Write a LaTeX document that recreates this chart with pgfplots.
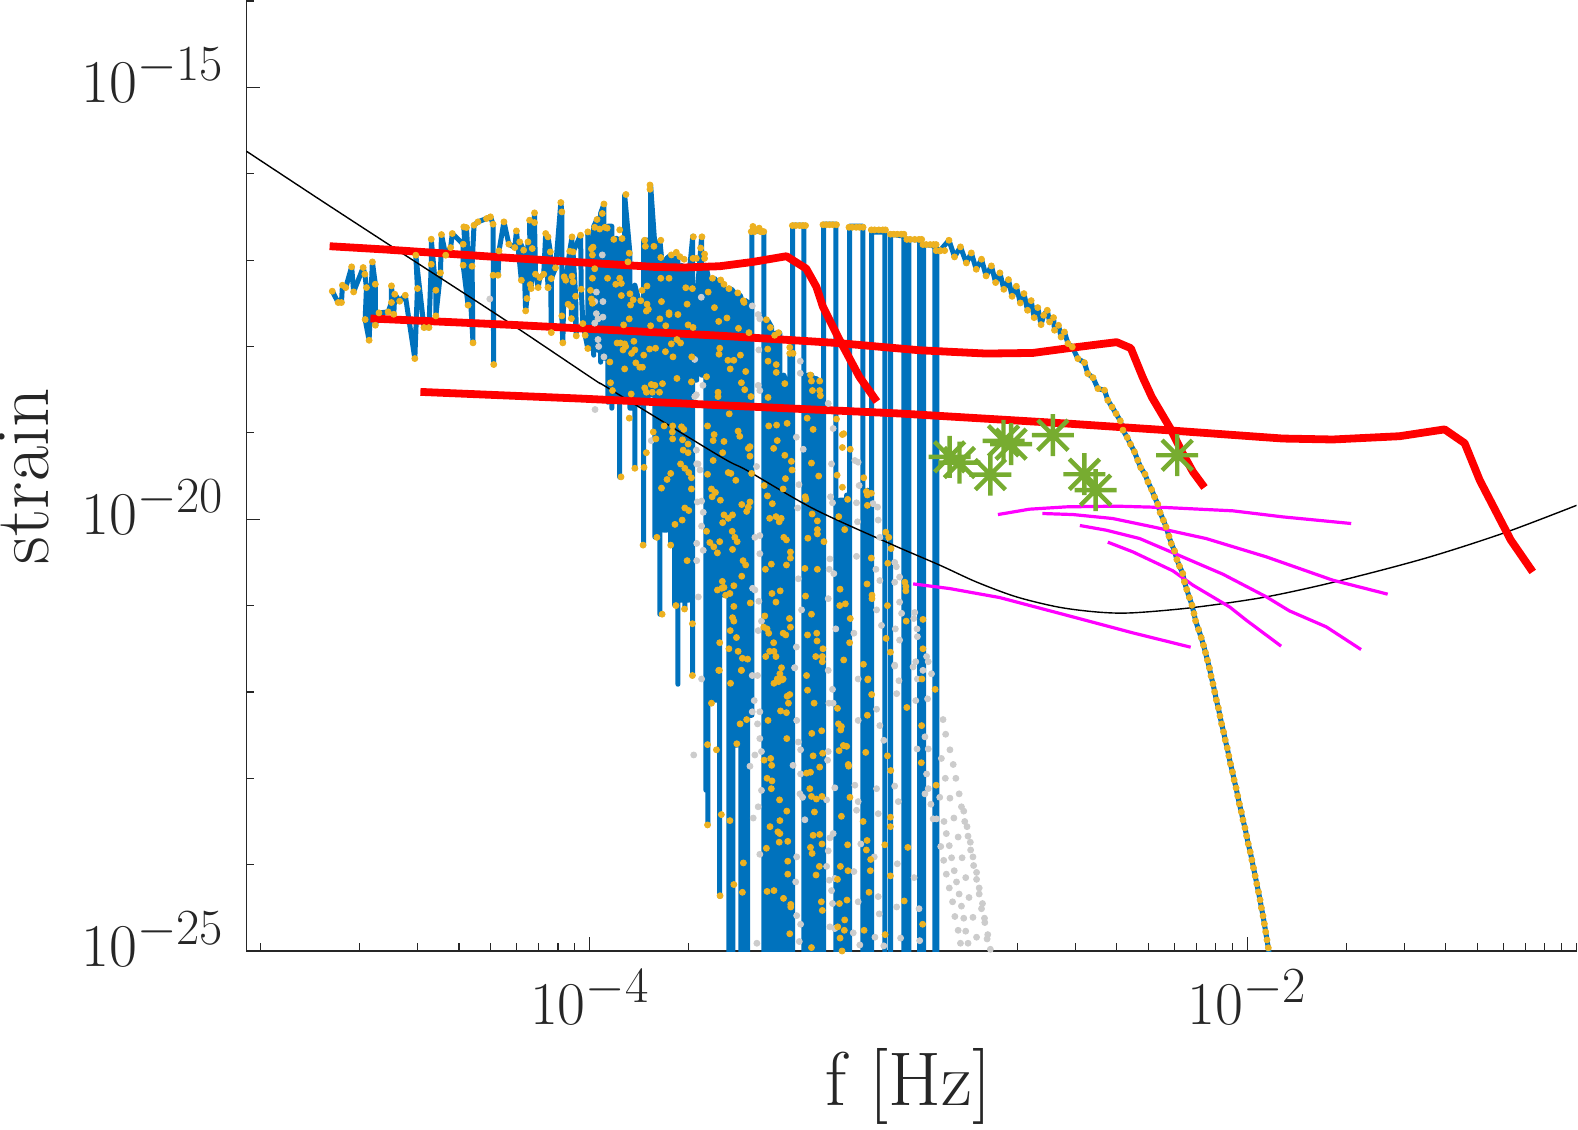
\documentclass[border=0pt]{standalone}
\usepackage{pgfplots}
\usepackage{pgfplotstable}
\pgfplotsset{compat=1.18}

% all tables hold log10(f) and log10(strain)
\pgfplotsset{/pgfplots/table/logxy/.style={x expr={10^(\thisrow{lf})},y expr={10^(\thisrow{lh})}}}

\definecolor{mblue}{HTML}{0072BD}
\definecolor{morange}{HTML}{EDB120}
\definecolor{mgreen}{HTML}{77AC30}
\definecolor{mgray}{HTML}{CCCCCC}
\definecolor{axgray}{HTML}{262626}
\definecolor{mmag}{RGB}{255,0,255}
\definecolor{mred}{RGB}{255,0,0}

\pgfdeclareplotmark{star8}{%
  \pgfpathmoveto{\pgfqpoint{-\pgfplotmarksize}{0pt}}\pgfpathlineto{\pgfqpoint{\pgfplotmarksize}{0pt}}%
  \pgfpathmoveto{\pgfqpoint{0pt}{-\pgfplotmarksize}}\pgfpathlineto{\pgfqpoint{0pt}{\pgfplotmarksize}}%
  \pgfpathmoveto{\pgfqpoint{-0.72\pgfplotmarksize}{-0.72\pgfplotmarksize}}\pgfpathlineto{\pgfqpoint{0.72\pgfplotmarksize}{0.72\pgfplotmarksize}}%
  \pgfpathmoveto{\pgfqpoint{-0.72\pgfplotmarksize}{0.72\pgfplotmarksize}}\pgfpathlineto{\pgfqpoint{0.72\pgfplotmarksize}{-0.72\pgfplotmarksize}}%
  \pgfusepathqstroke}

% low frequency part of the spectrum
\pgfplotstableread{
lf lh
-4.783 -17.360
-4.765 -17.491
-4.755 -17.491
-4.752 -17.291
-4.742 -17.318
-4.724 -17.078
-4.718 -17.368
-4.689 -17.086
-4.684 -17.163
-4.679 -17.318
-4.683 -17.688
-4.671 -17.928
-4.661 -17.021
-4.652 -17.279
-4.652 -17.754
-4.641 -17.611
-4.613 -17.600
-4.603 -17.491
-4.603 -17.298
-4.596 -17.627
-4.593 -17.395
-4.578 -17.476
-4.561 -17.407
-4.532 -18.140
-4.524 -17.329
-4.529 -16.943
-4.504 -17.781
-4.489 -17.781
-4.482 -17.048
-4.482 -16.758
-4.468 -17.349
-4.468 -17.646
-4.454 -17.148
-4.451 -16.704
-4.438 -16.943
-4.423 -16.855
-4.418 -16.692
-4.385 -16.816
-4.385 -17.059
-4.370 -17.522
-4.383 -16.615
-4.375 -16.623
-4.355 -17.958
-4.358 -17.071
-4.352 -16.596
-4.340 -16.557
-4.314 -16.519
-4.302 -16.499
-4.294 -16.584
-4.292 -18.209
-4.294 -17.175
-4.279 -17.175
-4.276 -16.893
-4.261 -16.557
-4.246 -16.816
-4.228 -16.855
-4.223 -16.662
-4.208 -17.233
-4.213 -16.789
-4.201 -16.885
-4.195 -17.588
-4.191 -17.445
-4.188 -16.789
-4.181 -17.283
-4.183 -16.538
-4.178 -17.329
-4.175 -16.866
-4.168 -16.453
-4.168 -16.565
-4.165 -17.163
-4.157 -17.318
-4.152 -17.202
-4.140 -17.163
-4.134 -16.692
-4.127 -17.318
-4.127 -16.731
-4.120 -16.905
-4.117 -17.839
-4.117 -17.214
-4.104 -17.090
-4.088 -16.333
-4.085 -16.442
-4.085 -17.646
-4.082 -17.958
-4.078 -17.194
-4.073 -17.233
-4.061 -16.897
-4.054 -16.731
-4.066 -17.511
-4.056 -17.542
-4.056 -17.677
-4.054 -17.186
-4.051 -17.252
-4.041 -17.877
-4.043 -17.418
-4.051 -16.905
-4.028 -16.712
-4.026 -17.337
-4.021 -17.735
-4.014 -17.870
-4.006 -18.024
-4.006 -16.673
}\lowdata

% the teeth, they run below the axis at the harmonics
\pgfplotstableread{
lf lh
-4.006 -16.673
-4.000 -16.885
-4.000 -18.020
-3.988 -18.020
-3.988 -18.101
-3.988 -16.607
-3.976 -16.514
-3.976 -18.043
-3.967 -18.043
-3.967 -18.182
-3.967 -16.457
-3.957 -16.352
-3.957 -18.136
-3.945 -18.136
-3.945 -18.645
-3.945 -16.607
-3.933 -16.607
-3.933 -18.715
-3.933 -18.576
-3.921 -18.576
-3.921 -16.746
-3.909 -16.769
-3.909 -19.514
-3.909 -18.622
-3.894 -18.622
-3.894 -16.248
-3.878 -16.920
-3.878 -18.715
-3.863 -18.715
-3.863 -19.409
-3.863 -17.290
-3.851 -17.464
-3.851 -18.668
-3.836 -18.668
-3.836 -20.301
-3.836 -16.769
-3.824 -16.769
-3.824 -18.645
-3.824 -18.564
-3.815 -18.564
-3.815 -16.132
-3.802 -16.839
-3.802 -20.208
-3.787 -20.208
-3.787 -21.100
-3.787 -16.769
-3.775 -17.232
-3.775 -20.127
-3.766 -20.127
-3.766 -16.978
-3.754 -16.943
-3.754 -20.301
-3.742 -20.301
-3.742 -20.996
-3.742 -16.978
-3.732 -16.978
-3.732 -21.911
-3.732 -20.938
-3.720 -20.938
-3.720 -17.059
-3.711 -17.117
-3.711 -21.042
-3.711 -20.938
-3.699 -20.938
-3.699 -17.209
-3.687 -16.723
-3.687 -21.806
-3.687 -18.390
-3.675 -18.390
-3.675 -17.464
-3.660 -16.734
-3.660 -18.332
-3.647 -18.332
-3.647 -23.138
-3.647 -17.059
-3.641 -17.175
-3.641 -23.543
-3.641 -22.096
-3.629 -22.096
-3.629 -17.209
-3.617 -17.221
-3.617 -22.096
-3.605 -22.096
-3.605 -24.366
-3.605 -17.232
-3.593 -17.279
-3.593 -20.880
-3.577 -20.880
-3.577 -27
-3.577 -17.325
-3.565 -17.348
-3.565 -27
-3.565 -22.617
-3.553 -22.617
-3.553 -17.371
-3.541 -17.418
-3.541 -27
-3.529 -27
-3.529 -17.464
-3.520 -17.487
-3.520 -27
-3.520 -22.270
-3.507 -22.270
-3.507 -16.653
-3.471 -16.677
-3.471 -27
-3.459 -27
-3.459 -17.696
-3.447 -17.777
-3.447 -27
-3.435 -27
-3.435 -17.846
-3.422 -17.846
-3.422 -27
-3.410 -27
-3.410 -18.332
-3.401 -18.425
-3.401 -27
-3.392 -27
-3.392 -18.089
-3.392 -27
-3.383 -27
-3.383 -16.595
-3.349 -16.595
-3.349 -27
-3.337 -27
-3.337 -18.332
-3.325 -18.332
-3.325 -27
-3.313 -27
-3.313 -18.367
-3.301 -18.414
-3.301 -27
-3.289 -27
-3.289 -16.584
-3.252 -16.584
-3.252 -27
-3.240 -27
-3.240 -19.780
-3.228 -19.780
-3.228 -27
-3.219 -27
-3.219 -19.720
-3.219 -27
-3.210 -27
-3.210 -16.607
-3.170 -16.607
-3.170 -27
-3.155 -27
-3.155 -19.664
-3.155 -27
-3.143 -27
-3.143 -16.677
-3.103 -16.677
-3.103 -27
-3.085 -27
-3.085 -16.700
-3.045 -16.723
-3.045 -27
-3.030 -27
-3.030 -16.758
-2.997 -16.769
-2.997 -27
-2.985 -27
-2.985 -16.816
-2.951 -16.839
-2.951 -27
-2.945 -27
-2.945 -16.862
-2.936 -16.894
}\bardata

% high frequency tail
\pgfplotstableread{
lf lh
-2.936 -16.894
-2.908 -16.770
-2.891 -16.963
-2.873 -16.847
-2.855 -17.033
-2.840 -16.917
-2.825 -17.106
-2.809 -16.990
-2.795 -17.183
-2.779 -17.067
-2.766 -17.260
-2.753 -17.148
-2.741 -17.338
-2.727 -17.226
-2.716 -17.419
-2.703 -17.303
-2.691 -17.496
-2.680 -17.388
-2.669 -17.581
-2.658 -17.469
-2.649 -17.666
-2.638 -17.550
-2.628 -17.747
-2.620 -17.639
-2.609 -17.581
-2.602 -17.716
-2.590 -17.666
-2.587 -17.812
-2.575 -17.755
-2.567 -17.890
-2.557 -17.832
-2.546 -17.967
-2.533 -18.005
-2.516 -18.141
-2.496 -18.187
-2.486 -18.314
-2.470 -18.361
-2.455 -18.488
-2.435 -18.507
-2.425 -18.623
-2.412 -18.700
-2.400 -18.777
-2.387 -18.861
-2.379 -18.969
-2.366 -19.054
-2.356 -19.132
-2.344 -19.220
-2.334 -19.317
-2.325 -19.402
-2.312 -19.479
-2.303 -19.568
-2.292 -19.656
-2.283 -19.741
-2.273 -19.826
-2.266 -19.923
-2.256 -20.012
-2.248 -20.089
-2.239 -20.197
-2.232 -20.282
-2.222 -20.367
-2.215 -20.467
-2.207 -20.544
-2.197 -20.629
-2.192 -20.726
-2.185 -20.814
-2.177 -20.907
-2.169 -20.996
-2.163 -21.092
-2.158 -21.177
-2.149 -21.278
-2.141 -21.370
-2.134 -21.459
-2.128 -21.544
-2.122 -21.633
-2.116 -21.722
-2.111 -21.815
-2.105 -21.907
-2.100 -22.000
-2.095 -22.093
-2.089 -22.185
-2.084 -22.278
-2.079 -22.370
-2.073 -22.463
-2.068 -22.556
-2.062 -22.648
-2.057 -22.741
-2.052 -22.833
-2.046 -22.926
-2.041 -23.019
-2.035 -23.111
-2.030 -23.204
-2.025 -23.296
-2.019 -23.389
-2.014 -23.482
-2.008 -23.574
-2.003 -23.667
-1.998 -23.759
-1.992 -23.852
-1.987 -23.945
-1.982 -24.037
-1.977 -24.130
-1.972 -24.222
-1.967 -24.315
-1.962 -24.408
-1.958 -24.500
-1.953 -24.593
-1.949 -24.685
-1.945 -24.778
-1.941 -24.871
-1.937 -24.963
-1.933 -25.056
}\taildata

% dots inside the teeth
\pgfplotstableread{
lf lh
-3.995 -16.87
-3.990 -16.85
-3.992 -16.94
-3.985 -17.10
-3.992 -17.21
-3.998 -17.35
-3.995 -17.45
-3.992 -17.50
-3.985 -16.62
-3.978 -16.53
-3.970 -16.64
-3.962 -16.46
-3.957 -16.35
-3.954 -16.62
-3.947 -16.63
-3.946 -17.21
-3.927 -16.76
-3.909 -16.65
-3.902 -16.75
-3.890 -16.24
-3.880 -16.92
-3.884 -17.02
-3.921 -17.28
-3.909 -17.21
-3.904 -17.27
-3.904 -17.41
-3.878 -17.39
-3.868 -17.46
-3.876 -17.52
-3.880 -17.68
-3.897 -17.75
-3.917 -17.96
-3.907 -17.96
-3.894 -17.97
-3.866 -17.94
-3.899 -18.04
-3.891 -18.00
-3.863 -18.04
-3.873 -18.08
-3.836 -18.10
-3.860 -18.19
-3.848 -18.24
-3.840 -18.24
-3.894 -18.26
-3.939 -18.18
-3.937 -18.42
-3.931 -18.51
-3.874 -18.55
-3.833 -18.48
-3.828 -18.53
-3.813 -18.44
-3.802 -18.45
-3.810 -18.53
-3.779 -18.43
-3.788 -18.53
-3.833 -16.77
-3.831 -16.84
-3.817 -16.13
-3.817 -16.18
-3.805 -16.84
-3.784 -16.77
-3.784 -16.97
-3.784 -17.21
-3.759 -17.21
-3.826 -17.30
-3.841 -17.35
-3.845 -17.47
-3.826 -17.51
-3.822 -17.57
-3.828 -17.59
-3.782 -17.48
-3.787 -17.68
-3.769 -17.76
-3.815 -17.76
-3.818 -18.03
-3.800 -18.02
-3.752 -17.97
-3.770 -18.06
-3.747 -18.12
-3.735 -17.92
-3.724 -17.96
-3.732 -17.63
-3.759 -17.61
-3.759 -17.63
-3.704 -17.51
-3.708 -17.32
-3.688 -17.33
-3.701 -17.75
-3.686 -17.78
-3.690 -18.12
-3.735 -18.37
-3.691 -18.41
-3.752 -16.94
-3.737 -16.91
-3.726 -16.96
-3.713 -16.99
-3.685 -16.73
-3.686 -16.98
-3.659 -16.73
-3.663 -16.86
-3.651 -16.93
-3.651 -16.98
-3.676 -16.98
-3.627 -17.21
-3.602 -17.23
-3.592 -17.28
-3.577 -17.33
-3.550 -17.38
-3.533 -17.47
-3.531 -17.49
-3.640 -17.37
-3.621 -17.55
-3.608 -17.71
-3.583 -17.67
-3.548 -17.79
-3.516 -17.84
-3.645 -18.35
-3.605 -18.02
-3.607 -18.09
-3.580 -18.16
-3.562 -18.16
-3.573 -18.26
-3.542 -18.10
-3.526 -18.29
-3.539 -18.42
-3.529 -18.50
-3.610 -18.53
-3.610 -18.58
-3.510 -18.58
-3.463 -17.69
-3.451 -17.78
-3.426 -17.84
-3.438 -17.87
-3.459 -18.03
-3.458 -18.17
-3.433 -18.21
-3.433 -18.30
-3.407 -18.43
-3.392 -18.01
-3.392 -18.08
-3.382 -18.08
-3.329 -18.33
-3.326 -18.40
-3.323 -18.51
-3.301 -18.40
-3.301 -18.51
-3.299 -18.57
-3.509 -16.67
-3.504 -16.61
-3.494 -16.65
-3.485 -16.63
-3.475 -16.67
-3.499 -16.67
-3.481 -16.67
-3.471 -16.67
-3.384 -16.60
-3.374 -16.60
-3.362 -16.60
-3.352 -16.60
-3.344 -16.60
-3.291 -16.59
-3.281 -16.59
-3.271 -16.59
-3.261 -16.59
-3.250 -16.59
-3.212 -16.62
-3.202 -16.62
-3.190 -16.62
-3.180 -16.62
-3.169 -16.62
-3.144 -16.65
-3.134 -16.65
-3.121 -16.65
-3.109 -16.65
-3.101 -16.65
-3.086 -16.70
-3.076 -16.70
-3.065 -16.70
-3.053 -16.70
-3.045 -16.70
-3.036 -16.76
-3.026 -16.76
-3.012 -16.76
-2.999 -16.76
-2.991 -16.76
-2.987 -16.82
-2.977 -16.82
-2.965 -16.82
-2.955 -16.82
-2.947 -16.82
-2.947 -16.89
-2.934 -16.89
-2.921 -16.89
-3.880 -18.83
-3.863 -19.41
-3.905 -19.51
-3.835 -19.40
-3.838 -20.30
-3.807 -18.99
-3.799 -19.07
-3.828 -19.23
-3.796 -20.21
-3.782 -19.64
-3.780 -21.10
-3.765 -19.54
-3.754 -19.47
-3.754 -20.30
-3.741 -20.06
-3.738 -21.00
-3.719 -20.01
-3.711 -19.87
-3.699 -19.90
-3.691 -19.65
-3.704 -20.48
-3.712 -21.04
-3.688 -21.21
-3.688 -21.81
-3.774 -18.92
-3.749 -18.99
-3.748 -19.07
-3.748 -18.92
-3.721 -18.93
-3.714 -18.96
-3.718 -19.08
-3.701 -19.13
-3.716 -19.20
-3.701 -19.23
-3.724 -19.36
-3.711 -19.41
-3.699 -19.46
-3.691 -19.52
-3.642 -18.92
-3.622 -19.02
-3.625 -19.09
-3.592 -19.10
-3.596 -19.23
-3.625 -19.32
-3.642 -19.48
-3.630 -19.65
-3.618 -19.69
-3.628 -19.74
-3.603 -19.78
-3.576 -18.78
-3.549 -18.98
-3.544 -19.04
-3.518 -19.18
-3.513 -19.16
-3.513 -19.27
-3.579 -19.46
-3.571 -19.47
-3.556 -19.55
-3.508 -19.47
-3.592 -19.95
-3.566 -19.95
-3.579 -19.99
-3.596 -20.04
-3.538 -19.83
-3.513 -19.80
-3.523 -19.91
-3.518 -19.86
-3.567 -20.14
-3.645 -20.14
-3.559 -20.21
-3.552 -20.26
-3.605 -20.26
-3.635 -20.27
-3.623 -20.32
-3.612 -20.39
-3.566 -20.35
-3.534 -20.48
-3.526 -20.53
-3.538 -20.66
-3.597 -20.72
-3.599 -20.80
-3.612 -20.82
-3.592 -20.79
-3.587 -20.88
-3.574 -20.86
-3.562 -20.77
-3.512 -20.97
-3.562 -21.01
-3.566 -21.14
-3.562 -21.18
-3.573 -21.29
-3.554 -21.37
-3.605 -21.43
-3.577 -21.50
-3.549 -21.53
-3.536 -21.61
-3.520 -21.62
-3.608 -21.75
-3.539 -21.75
-3.458 -18.59
-3.456 -18.92
-3.432 -18.91
-3.400 -18.89
-3.430 -19.09
-3.441 -19.18
-3.407 -19.26
-3.387 -19.33
-3.385 -19.43
-3.405 -19.53
-3.412 -19.65
-3.470 -19.61
-3.460 -19.73
-3.445 -19.82
-3.453 -19.99
-3.434 -19.97
-3.418 -19.99
-3.424 -20.03
-3.410 -20.21
-3.402 -20.24
-3.390 -20.38
-3.390 -20.45
-3.402 -20.53
-3.448 -20.52
-3.466 -20.58
-3.446 -20.86
-3.421 -20.83
-3.434 -20.96
-3.393 -21.15
-3.468 -21.12
-3.390 -21.25
-3.471 -21.25
-3.461 -21.27
-3.456 -21.32
-3.412 -21.32
-3.404 -21.34
-3.441 -21.43
-3.453 -21.53
-3.440 -21.53
-3.434 -21.59
-3.465 -21.59
-3.417 -21.72
-3.422 -21.79
-3.430 -21.85
-3.412 -21.85
-3.339 -18.83
-3.321 -18.96
-3.326 -19.35
-3.304 -19.50
-3.345 -19.74
-3.343 -19.77
-3.324 -19.94
-3.308 -20.02
-3.308 -20.12
-3.308 -20.17
-3.337 -20.22
-3.288 -20.26
-3.346 -20.57
-3.308 -20.58
-3.344 -20.89
-3.326 -21.10
-3.338 -21.34
-3.310 -21.32
-3.309 -21.41
-3.313 -21.59
-3.291 -21.50
-3.293 -21.59
-3.293 -21.65
-3.341 -21.81
-3.250 -18.84
-3.228 -19.01
-3.232 -19.02
-3.232 -19.17
-3.208 -19.19
-3.248 -19.49
-3.232 -19.63
-3.216 -19.77
-3.243 -19.97
-3.225 -20.12
-3.239 -20.81
-3.223 -20.98
-3.240 -21.00
-3.208 -21.15
-3.210 -21.43
-3.228 -21.63
-3.167 -19.52
-3.159 -19.68
-3.156 -19.72
-3.144 -19.70
-3.156 -19.84
-3.144 -20.45
-3.157 -20.75
-3.142 -20.88
-3.142 -20.92
-3.168 -21.68
-3.154 -21.85
-3.100 -20.15
-3.091 -20.21
-3.084 -20.34
-3.094 -20.51
-3.095 -21.00
-3.099 -21.38
-3.086 -21.54
-3.042 -20.73
-3.039 -20.78
-3.039 -20.83
-3.038 -21.18
-2.987 -21.16
-2.987 -21.50
-2.990 -21.85
-3.606 -21.75
-3.539 -21.75
-3.572 -21.90
-3.630 -22.13
-3.642 -22.61
-3.615 -22.67
-3.642 -23.54
-3.600 -23.42
-3.604 -24.36
-3.574 -23.49
-3.562 -24.23
-3.533 -23.98
-3.536 -24.32
-3.553 -22.60
-3.543 -22.37
-3.523 -22.32
-3.458 -22.33
-3.420 -22.22
-3.402 -22.24
-3.396 -22.13
-3.400 -22.05
-3.392 -22.03
-3.440 -21.90
-3.426 -21.88
-3.415 -21.86
-3.401 -22.54
-3.470 -22.79
-3.450 -22.77
-3.447 -22.85
-3.461 -23.00
-3.446 -23.03
-3.448 -23.12
-3.423 -23.25
-3.401 -23.38
-3.422 -23.49
-3.452 -23.56
-3.428 -23.62
-3.422 -23.64
-3.424 -23.74
-3.398 -23.73
-3.463 -23.81
-3.398 -23.96
-3.398 -24.11
-3.461 -24.31
-3.440 -24.30
-3.411 -24.39
-3.389 -24.46
-3.389 -24.49
-3.392 -24.80
-3.338 -21.98
-3.318 -22.13
-3.325 -22.48
-3.295 -22.45
-3.292 -22.71
-3.321 -22.74
-3.301 -22.87
-3.341 -22.94
-3.329 -22.93
-3.331 -23.12
-3.326 -23.21
-3.311 -23.24
-3.294 -23.21
-3.317 -23.39
-3.321 -23.66
-3.301 -23.65
-3.294 -23.76
-3.329 -23.80
-3.324 -23.87
-3.302 -24.02
-3.312 -24.12
-3.296 -24.43
-3.293 -24.53
-3.326 -24.96
-3.247 -22.19
-3.244 -22.37
-3.235 -22.40
-3.237 -22.44
-3.229 -22.62
-3.219 -22.63
-3.242 -22.68
-3.214 -22.84
-3.213 -22.86
-3.209 -23.22
-3.235 -23.44
-3.216 -23.77
-3.238 -24.02
-3.215 -24.07
-3.247 -24.17
-3.218 -24.41
-3.241 -24.45
-3.225 -24.64
-3.246 -24.72
-3.226 -24.76
-3.239 -24.85
-3.233 -25.00
-3.155 -21.86
-3.143 -22.03
-3.156 -22.27
-3.161 -22.70
-3.169 -23.50
-3.157 -23.72
-3.159 -23.83
-3.146 -23.94
-3.147 -24.07
-3.151 -24.32
-3.166 -24.76
-3.095 -22.74
-3.085 -22.91
-3.086 -23.45
-3.086 -23.56
-3.103 -23.77
-3.086 -24.13
-3.102 -24.81
-3.036 -22.18
-3.033 -23.80
-3.044 -24.42
-2.991 -22.39
-2.992 -22.82
-2.988 -24.69
-2.950 -21.97
-2.947 -23.08
}\innerdots

% grey dots of the second spectrum
\pgfplotstableread{
lf lh
-3.660 -21.85
-3.506 -21.81
-3.490 -21.81
-3.500 -22.10
-3.506 -22.23
-3.483 -22.23
-3.490 -22.37
-3.483 -22.54
-3.498 -22.73
-3.478 -22.69
-3.513 -22.86
-3.478 -23.14
-3.488 -23.33
-3.503 -23.46
-3.483 -23.88
-3.492 -24.91
-3.684 -22.73
-3.377 -21.72
-3.371 -22.33
-3.366 -22.58
-3.359 -22.67
-3.382 -22.85
-3.359 -22.95
-3.361 -23.18
-3.353 -23.22
-3.346 -23.48
-3.371 -23.91
-3.374 -24.20
-3.371 -24.59
-3.359 -24.69
-3.363 -24.89
-3.275 -21.75
-3.262 -21.97
-3.273 -22.13
-3.260 -22.13
-3.275 -22.69
-3.277 -22.79
-3.280 -23.25
-3.255 -23.11
-3.260 -23.64
-3.270 -23.69
-3.275 -23.84
-3.280 -24.02
-3.272 -24.18
-3.255 -24.16
-3.265 -24.30
-3.262 -24.45
-3.255 -24.74
-3.270 -24.72
-3.199 -24.79
-3.194 -23.08
-3.189 -23.37
-3.184 -23.27
-3.184 -22.33
-3.184 -21.85
-3.176 -23.76
-3.184 -24.43
-3.197 -24.08
-3.179 -24.93
-3.128 -22.20
-3.118 -22.39
-3.106 -22.56
-3.128 -23.12
-3.123 -23.41
-3.135 -23.91
-3.123 -24.37
-3.120 -24.57
-3.133 -24.84
-3.106 -24.94
-3.073 -21.70
-3.060 -21.87
-3.067 -22.02
-3.073 -23.09
-3.062 -23.27
-3.065 -23.99
-3.067 -24.49
-3.055 -24.85
-3.009 -21.65
-3.004 -21.85
-3.009 -22.10
-3.005 -22.66
-3.014 -24.15
-2.997 -24.88
-2.999 -24.51
-2.971 -22.66
-2.981 -22.52
-2.973 -22.08
-2.976 -22.95
-2.963 -23.30
-2.956 -23.47
-2.971 -23.12
-2.981 -23.18
-2.946 -23.47
-2.926 -22.32
-2.918 -22.49
-2.905 -22.67
-2.931 -22.77
-2.895 -22.84
-2.919 -23.00
-2.887 -23.00
-2.877 -23.18
-2.905 -23.23
-2.936 -23.22
-2.870 -23.33
-2.863 -23.38
-2.893 -23.46
-2.923 -23.50
-2.860 -23.50
-2.853 -23.56
-2.880 -23.68
-2.916 -23.64
-2.850 -23.67
-2.843 -23.74
-2.907 -23.78
-2.933 -23.79
-2.842 -23.83
-2.835 -23.91
-2.924 -23.95
-2.900 -23.92
-2.868 -23.92
-2.833 -24.01
-2.892 -24.07
-2.824 -24.09
-2.916 -24.11
-2.857 -24.15
-2.824 -24.17
-2.885 -24.20
-2.816 -24.27
-2.907 -24.27
-2.877 -24.34
-2.847 -24.38
-2.816 -24.34
-2.897 -24.43
-2.870 -24.48
-2.806 -24.45
-2.809 -24.51
-2.890 -24.60
-2.863 -24.62
-2.835 -24.61
-2.800 -24.62
-2.799 -24.67
-2.880 -24.76
-2.857 -24.77
-2.824 -24.84
-2.790 -24.81
-2.792 -24.86
-2.873 -24.91
-2.850 -24.91
-2.782 -24.98
-3.984 -18.73
-3.675 -19.36
-3.665 -19.43
-3.673 -19.80
-3.660 -19.79
-3.655 -19.92
-3.660 -20.08
-3.675 -20.28
-3.655 -20.36
-3.675 -20.48
-3.670 -20.90
-3.498 -20.21
-3.483 -20.19
-3.483 -20.40
-3.505 -20.80
-3.498 -20.82
-3.493 -19.39
-3.372 -19.05
-3.351 -19.19
-3.364 -19.60
-3.368 -19.87
-3.366 -20.69
-3.486 -20.95
-3.478 -21.18
-3.488 -21.29
-3.356 -21.05
-3.372 -21.48
-3.377 -21.72
-3.265 -19.36
-3.275 -18.66
-3.260 -18.95
-3.268 -19.74
-3.262 -19.81
-3.194 -19.32
-3.184 -19.34
-3.181 -19.61
-3.189 -19.81
-3.186 -20.03
-3.189 -20.43
-3.197 -21.32
-3.270 -20.46
-3.272 -20.58
-3.258 -20.63
-3.275 -20.92
-3.252 -21.27
-3.139 -19.82
-3.125 -19.86
-3.123 -20.01
-3.118 -20.21
-3.130 -20.58
-3.118 -20.71
-3.128 -21.05
-3.113 -21.23
-3.073 -20.50
-3.068 -20.55
-3.058 -20.67
-3.073 -20.73
-3.058 -20.96
-3.052 -21.09
-3.071 -21.27
-3.058 -21.40
-3.073 -21.69
-3.012 -21.08
-3.015 -21.15
-3.005 -21.27
-3.004 -21.36
-2.976 -21.59
-2.971 -21.65
-2.961 -21.79
-3.017 -21.71
-2.987 -21.75
-4.304 -17.45
-4.127 -17.32
-3.962 -16.94
-3.980 -17.37
-3.960 -17.48
-3.985 -17.48
-3.980 -17.62
-3.975 -17.68
-3.960 -17.66
-3.985 -17.73
-3.975 -17.92
-3.973 -18.00
-3.957 -18.12
-3.661 -17.43
-3.681 -18.15
-3.656 -18.45
-3.681 -18.58
-3.813 -19.09
-3.676 -19.20
-3.671 -19.36
-3.506 -17.53
-3.488 -17.63
-3.483 -17.68
-3.486 -18.04
-3.360 -18.17
-3.360 -18.31
-3.488 -18.45
-3.483 -18.51
-3.676 -18.56
}\graydots

\pgfplotstableread{
lf lh
-5.044 -15.739
-4.821 -16.299
-4.603 -16.840
-4.264 -17.677
-3.984 -18.391
-3.950 -18.468
-3.605 -19.270
-3.523 -19.433
-3.321 -19.877
-3.088 -20.282
-2.936 -20.532
-2.825 -20.726
-2.703 -20.899
-2.572 -21.020
-2.450 -21.077
-2.349 -21.084
-2.166 -21.023
-1.943 -20.899
-1.717 -20.710
-1.458 -20.450
-1.221 -20.160
-1.000 -19.840
}\noisedata

\begin{document}
\begin{tikzpicture}
\useasboundingbox (-123.25pt,-89pt) rectangle (665.75pt,475.5pt);
\begin{axis}[%
    at={(0pt,0pt)},
    anchor=south west,
    scale only axis,
    width=665pt,
    height=475pt,
    xmode=log,
    ymode=log,
    xmin=9.04e-6,xmax=1e-1,
    ymin=1e-25,ymax=1e-14,
    axis x line*=bottom,
    axis y line*=left,
    axis line style={color=axgray,line width=0.75pt},
    tick align=inside,
    tick style={color=axgray,line width=0.6pt},
    major tick length=7pt,
    minor tick length=4pt,
    xtick={1e-4,1e-2},
    minor xtick={1e-5,2e-5,3e-5,4e-5,5e-5,6e-5,7e-5,8e-5,9e-5,2e-4,3e-4,4e-4,5e-4,6e-4,7e-4,8e-4,9e-4,1e-3,2e-3,3e-3,4e-3,5e-3,6e-3,7e-3,8e-3,9e-3,2e-2,3e-2,4e-2,5e-2,6e-2,7e-2,8e-2,9e-2,1e-1},
    ytick={1e-25,1e-20,1e-15},
    minor ytick={1e-24,1e-23,1e-22,1e-21,1e-19,1e-18,1e-17,1e-16,1e-14},
    tick label style={font=\Huge,scale=1.22,text=axgray},
    xticklabel style={yshift=-4pt},
    yticklabel style={xshift=-5.5pt,yshift=5pt},
    xlabel={f [Hz]},
    ylabel={strain},
    every axis x label/.style={at={(axis description cs:0.498,0)},anchor=base,yshift=-77pt,font=\Huge,scale=1.53,text=axgray},
    every axis y label/.style={at={(axis description cs:0,0.5)},rotate=90,anchor=base,yshift=99pt,font=\Huge,scale=1.55,text=axgray},
    clip=true,
    ]

\addplot[mgray,only marks,mark=*,mark size=1.5pt] table[logxy] {\graydots};

\addplot[mblue,line width=2.5pt,line join=round,no marks] table[logxy] {\lowdata};
\addplot[mblue,line width=2.5pt,line join=round,no marks] table[logxy] {\bardata};
\addplot[mblue,line width=2.5pt,line join=round,no marks] table[logxy] {\taildata};

\addplot[morange,only marks,mark=*,mark size=1.5pt] table[logxy] {\lowdata};
\addplot[morange,only marks,mark=*,mark size=1.5pt] table[logxy] {\taildata};
\addplot[morange,only marks,mark=*,mark size=1.5pt] table[logxy] {\innerdots};

\addplot[black,line width=0.7pt,smooth,no marks] table[logxy] {\noisedata};

% tracks
\addplot[mred,line width=3.9pt,line join=round,no marks] table[logxy] {
lf lh
-4.791 -16.839
-4.618 -16.878
-4.213 -16.982
-3.808 -17.078
-3.717 -17.086
-3.605 -17.071
-3.504 -17.021
-3.402 -16.955
-3.342 -17.098
-3.311 -17.310
-3.291 -17.542
-3.240 -17.928
-3.180 -18.353
-3.127 -18.638
};
\addplot[mred,line width=3.9pt,line join=round,no marks] table[logxy] {
lf lh
-4.667 -17.676
-4.213 -17.754
-3.605 -17.875
-3.250 -17.959
-2.997 -18.044
-2.795 -18.082
-2.653 -18.075
-2.531 -18.013
-2.450 -17.974
-2.398 -17.950
-2.355 -18.020
-2.319 -18.356
-2.291 -18.587
-2.237 -18.935
-2.197 -19.240
-2.166 -19.452
-2.131 -19.633
};
\addplot[mred,line width=3.9pt,line join=round,no marks] table[logxy] {
lf lh
-4.515 -18.526
-4.030 -18.603
-3.605 -18.680
-3.058 -18.776
-2.551 -18.892
-2.247 -18.969
-1.893 -19.066
-1.741 -19.077
-1.538 -19.039
-1.401 -18.960
-1.340 -19.120
-1.294 -19.550
-1.200 -20.240
-1.133 -20.610
};

% ringdown branches
\addplot[mmag,line width=1.6pt,no marks] table[logxy] {
lf lh
-2.759 -19.946
-2.663 -19.884
-2.551 -19.857
-2.399 -19.849
-2.247 -19.865
-2.045 -19.903
-1.893 -19.973
-1.685 -20.050
};
\addplot[mmag,line width=1.6pt,no marks] table[logxy] {
lf lh
-2.624 -19.934
-2.531 -19.946
-2.410 -19.992
-2.288 -20.089
-2.126 -20.224
-1.943 -20.436
-1.741 -20.706
-1.574 -20.868
};
\addplot[mmag,line width=1.6pt,no marks] table[logxy] {
lf lh
-2.510 -20.073
-2.430 -20.127
-2.328 -20.224
-2.217 -20.405
-2.075 -20.637
-1.943 -20.899
-1.873 -21.061
-1.761 -21.246
-1.655 -21.509
};
\addplot[mmag,line width=1.6pt,no marks] table[logxy] {
lf lh
-2.425 -20.266
-2.349 -20.378
-2.227 -20.598
-2.166 -20.764
-2.055 -21.015
-2.004 -21.169
-1.898 -21.470
};
\addplot[mmag,line width=1.6pt,no marks] table[logxy] {
lf lh
-3.017 -20.749
-2.906 -20.803
-2.754 -20.907
-2.551 -21.111
-2.349 -21.316
-2.173 -21.482
};

\addplot[only marks,mgreen,line width=2.2pt,mark=star8,mark size=10.5pt] table[logxy] {
lf lh
-2.906 -19.278
-2.876 -19.344
-2.782 -19.483
-2.742 -19.093
-2.719 -19.131
-2.592 -19.027
-2.496 -19.479
-2.462 -19.664
-2.214 -19.259
};

\end{axis}
\end{tikzpicture}
\end{document}
